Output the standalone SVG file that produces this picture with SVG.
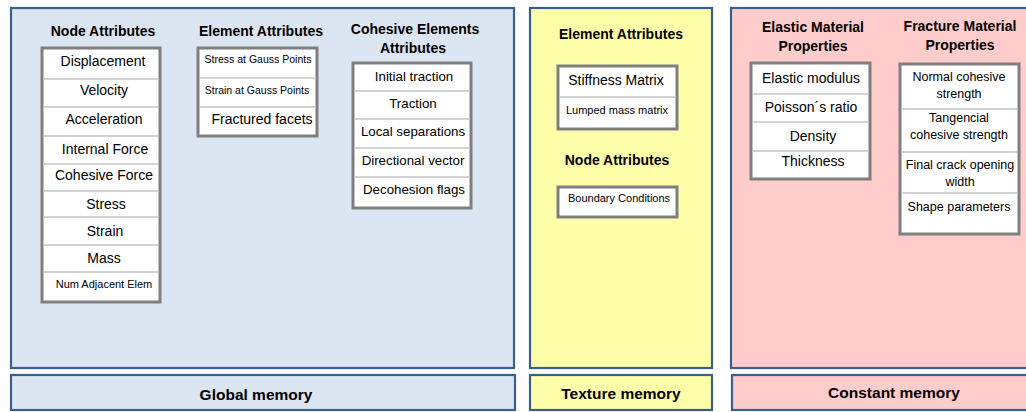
<svg xmlns="http://www.w3.org/2000/svg" width="1026" height="412" viewBox="0 0 1026 412">
<style>
text{font-family:"Liberation Sans",Arial,sans-serif;fill:#000;text-anchor:middle}
.h{font-weight:bold;font-size:14px}
.m{font-weight:bold;font-size:15.5px}
.t{font-size:14px}
.c{font-size:13.3px}
.s{font-size:11px}
.g{font-size:10.5px}
.f{font-size:12.5px}
.pb{fill:#dce6f2;stroke:#3a5f8e;stroke-width:2.2}
.py{fill:#ffffaa;stroke:#3a5f8e;stroke-width:2.2}
.pp{fill:#ffcccc;stroke:#3a5f8e;stroke-width:2.2}
.box{fill:#fff;stroke:#7f7f7f;stroke-width:3}
.sep{stroke:#c4c4c4;stroke-width:1.3}
</style>
<g id="panels">
<rect class="pb" x="11" y="8" width="503" height="360"/>
<rect class="py" x="530" y="8" width="182" height="360"/>
<rect class="pp" x="731" y="8" width="310" height="360"/>
</g>
<g id="global-memory">
<rect class="pb" x="11" y="375" width="504" height="35"/>
<text class="m" x="256" y="400">Global memory</text>
</g>
<g id="texture-memory">
<rect class="py" x="530" y="375" width="182" height="35"/>
<text class="m" x="621" y="399">Texture memory</text>
</g>
<g id="constant-memory">
<rect class="pp" x="732" y="375" width="310" height="35"/>
<text class="m" x="894" y="398">Constant memory</text>
</g>
<g id="node-attributes">
<text class="h" x="103" y="36">Node Attributes</text>
<rect class="box" x="42" y="48" width="118" height="254"/>
<g class="sep"><line x1="43" y1="79" x2="159" y2="79"/><line x1="43" y1="107" x2="159" y2="107"/><line x1="43" y1="136" x2="159" y2="136"/><line x1="43" y1="164" x2="159" y2="164"/><line x1="43" y1="191" x2="159" y2="191"/><line x1="43" y1="217" x2="159" y2="217"/><line x1="43" y1="245" x2="159" y2="245"/><line x1="43" y1="272" x2="159" y2="272"/></g>
<text class="t" x="103" y="66">Displacement</text>
<text class="t" x="104" y="95">Velocity</text>
<text class="t" x="104" y="124">Acceleration</text>
<text class="t" x="105" y="154">Internal Force</text>
<text class="t" x="104" y="180">Cohesive Force</text>
<text class="t" x="106" y="209">Stress</text>
<text class="t" x="105" y="236">Strain</text>
<text class="t" x="104" y="263">Mass</text>
<text class="s" x="104" y="288">Num Adjacent Elem</text>
</g>
<g id="element-attributes">
<text class="h" x="261" y="36">Element Attributes</text>
<rect class="box" x="198" y="48" width="119" height="88"/>
<g class="sep"><line x1="199" y1="78" x2="316" y2="78"/><line x1="199" y1="107" x2="316" y2="107"/></g>
<text class="g" x="258" y="63">Stress at Gauss Points</text>
<text class="g" x="257" y="94">Strain at Gauss Points</text>
<text class="t" x="262" y="124">Fractured facets</text>
</g>
<g id="cohesive-attributes">
<text class="h" x="415" y="34">Cohesive Elements</text>
<text class="h" x="413" y="53">Attributes</text>
<rect class="box" x="353" y="63" width="118" height="145"/>
<g class="sep"><line x1="354" y1="91" x2="470" y2="91"/><line x1="354" y1="119" x2="470" y2="119"/><line x1="354" y1="148" x2="470" y2="148"/><line x1="354" y1="177" x2="470" y2="177"/></g>
<text class="c" x="414" y="81">Initial traction</text>
<text class="c" x="413" y="108">Traction</text>
<text class="c" x="413" y="136">Local separations</text>
<text class="c" x="413" y="165">Directional vector</text>
<text class="c" x="414" y="194">Decohesion flags</text>
</g>
<g id="texture-element-attributes">
<text class="h" x="621" y="39">Element Attributes</text>
<rect class="box" x="558" y="66" width="119" height="63"/>
<line class="sep" x1="559" y1="97" x2="676" y2="97"/>
<text class="t" x="616" y="85">Stiffness Matrix</text>
<text class="s" x="617" y="114">Lumped mass matrix</text>
</g>
<g id="texture-node-attributes">
<text class="h" x="617" y="165">Node Attributes</text>
<rect class="box" x="558" y="187" width="119" height="30"/>
<text class="s" x="619" y="202">Boundary Conditions</text>
</g>
<g id="elastic-properties">
<text class="h" x="813" y="32">Elastic Material</text>
<text class="h" x="813" y="51">Properties</text>
<rect class="box" x="751" y="63" width="119" height="116"/>
<g class="sep"><line x1="752" y1="94" x2="869" y2="94"/><line x1="752" y1="122" x2="869" y2="122"/><line x1="752" y1="151" x2="869" y2="151"/></g>
<text class="t" x="811" y="83">Elastic modulus</text>
<text class="t" x="811" y="112">Poisson´s ratio</text>
<text class="t" x="813" y="141">Density</text>
<text class="t" x="813" y="166">Thickness</text>
</g>
<g id="fracture-properties">
<text class="h" x="960" y="31">Fracture Material</text>
<text class="h" x="960" y="50">Properties</text>
<rect class="box" x="900" y="64" width="119" height="170"/>
<g class="sep"><line x1="901" y1="109" x2="1018" y2="109"/><line x1="901" y1="152" x2="1018" y2="152"/><line x1="901" y1="193" x2="1018" y2="193"/></g>
<text class="f" x="959" y="81">Normal cohesive</text>
<text class="f" x="959" y="98">strength</text>
<text class="f" x="959" y="122">Tangencial</text>
<text class="f" x="959" y="139">cohesive strength</text>
<text class="f" x="960" y="169">Final crack opening</text>
<text class="f" x="960" y="186">width</text>
<text class="f" x="959" y="211">Shape parameters</text>
</g>
</svg>
